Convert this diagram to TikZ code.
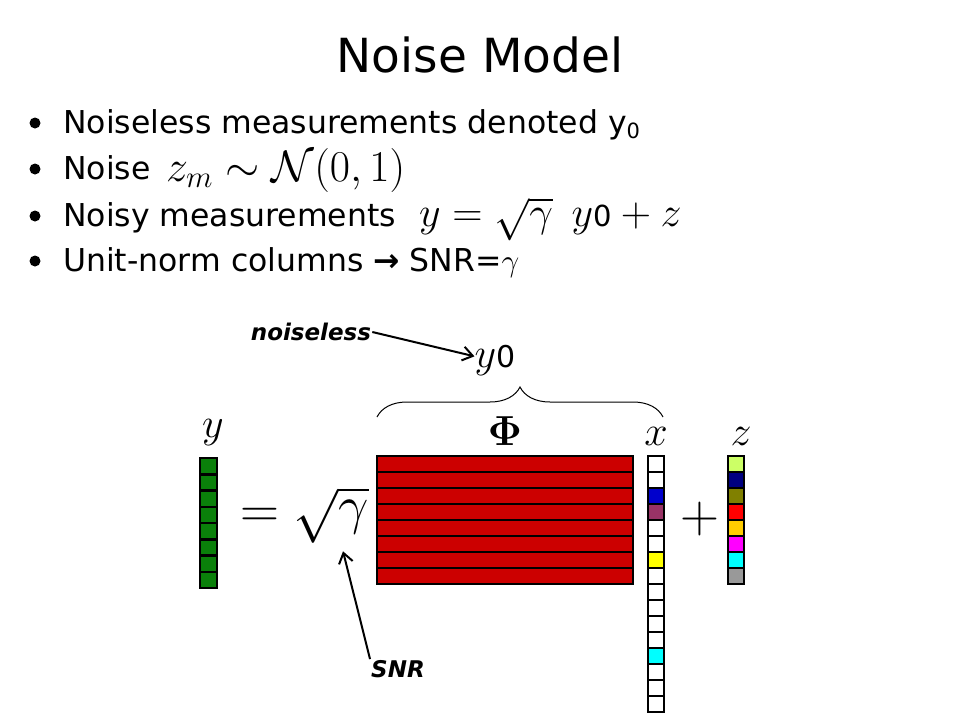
\RequirePackage{fix-cm}
\documentclass[tikz,border=0pt]{standalone}
\usepackage[no-math]{fontspec}
\setmainfont{DejaVu Sans}
\newfontfamily\dvb{DejaVu Sans Bold Oblique}
\usetikzlibrary{decorations.pathreplacing,arrows.meta}
\definecolor{phired}{HTML}{CC0000}
\definecolor{ygreen}{HTML}{0A800A}
\definecolor{xblue}{HTML}{0000CC}
\definecolor{xplum}{HTML}{993366}
\definecolor{xyellow}{HTML}{FFFF00}
\definecolor{xcyan}{HTML}{00FFFF}
\definecolor{zA}{HTML}{CCFF66}
\definecolor{zB}{HTML}{000080}
\definecolor{zC}{HTML}{808000}
\definecolor{zD}{HTML}{FF0000}
\definecolor{zE}{HTML}{FFCC00}
\definecolor{zF}{HTML}{FF00FF}
\definecolor{zG}{HTML}{00FFFF}
\definecolor{zH}{HTML}{999999}
\tikzset{
  bullettext/.style={anchor=base west, inner sep=0pt, font=\fontsize{31.5}{36}\selectfont},
  bulletdot/.style={circle, fill=black, inner sep=0pt, minimum size=11pt},
  bigmath/.style={inner sep=0pt, font=\fontsize{42}{50}\selectfont},
  hugemath/.style={inner sep=0pt, font=\fontsize{54}{60}\selectfont},
  cellbox/.style={draw=black, line width=2.5pt},
  callout/.style={font=\dvb\fontsize{23}{27}\selectfont, inner sep=1pt},
  arr/.style={line width=2pt, -{Straight Barb[length=10pt,width=14pt,line width=2pt]}},
}
\newcommand{\sanszero}[1]{{\fontsize{#1}{#1}\selectfont 0}}
\begin{document}
\begin{tikzpicture}[x=1pt,y=-1pt]
\useasboundingbox[fill=white] (0,0) rectangle (960,720);
% title
\node[anchor=base, inner sep=0pt, font=\fontsize{47}{56}\selectfont] (title) at (480,72) {Noise Model};
% bullets
\node[bulletdot] (d1) at (35,123) {};
\node[bulletdot] (d2) at (35,169) {};
\node[bulletdot] (d3) at (35,216) {};
\node[bulletdot] (d4) at (35,261) {};
\node[bullettext] (b1) at (63,133) {Noiseless measurements denoted y\raisebox{-5pt}{\fontsize{21}{21}\selectfont 0}};
\node[bullettext] (b2) at (63,179) {Noise};
\node[bullettext, font=\fontsize{44}{44}\selectfont] (m2) at (166,181) {$z_m\sim\mathcal{N}(0,1)$};
\node[bullettext] (b3) at (63,226) {Noisy measurements};
\node[bullettext, font=\fontsize{42}{42}\selectfont] (m3) at (419,226) {$y=\sqrt{\gamma}\;\,y\mbox{\sanszero{29}}+z$};
\node[bullettext] (b4) at (63,271) {Unit-norm columns {\bfseries →} SNR=$\gamma$};
% y vector
\foreach \i in {0,...,7}{
  \draw[cellbox, fill=ygreen] (200,{458+16.25*\i}) rectangle (217,{458+16.25*(\i+1)});
}
% Phi matrix
\foreach \i in {0,...,7}{
  \draw[cellbox, fill=phired] (377,{456+16*\i}) rectangle (633,{456+16*(\i+1)});
}
% x vector
\foreach \i/\c in {0/white,1/white,2/xblue,3/xplum,4/white,5/white,6/xyellow,7/white,8/white,9/white,10/white,11/white,12/xcyan,13/white,14/white,15/white}{
  \draw[cellbox, fill=\c] (648,{456+16*\i}) rectangle (664,{456+16*(\i+1)});
}
% z vector
\foreach \i/\c in {0/zA,1/zB,2/zC,3/zD,4/zE,5/zF,6/zG,7/zH}{
  \draw[cellbox, fill=\c] (728,{456+16*\i}) rectangle (744,{456+16*(\i+1)});
}
% labels
\node[bigmath, anchor=base] (ylab) at (213,437) {$y$};
\node[bigmath, anchor=base] (philab) at (505,445) {$\mathbf{\Phi}$};
\node[bigmath, anchor=base] (xlab) at (656,445) {$x$};
\node[bigmath, anchor=base] (zlab) at (741,445) {$z$};
\node[bigmath, anchor=base] (y0) at (495,367) {$y$\sanszero{30}};
\node[hugemath] (eq) at (260,518) {$=$};
\node[hugemath] (sq) at (331,515) {$\sqrt{\gamma}$};
\node[hugemath] (plus) at (700,519) {$+$};
% brace
\draw[line width=1pt, decorate, decoration={brace, amplitude=30pt}] (377,417) -- (663,417);
% callouts
\node[callout] (nl) at (311,332) {noiseless};
\node[callout] (snr) at (398,669) {SNR};
\draw[arr] (nl.east) -- (y0.170);
\draw[arr] (snr.north west) -- ([xshift=12pt,yshift=-8pt]sq.south);
\end{tikzpicture}
\end{document}
